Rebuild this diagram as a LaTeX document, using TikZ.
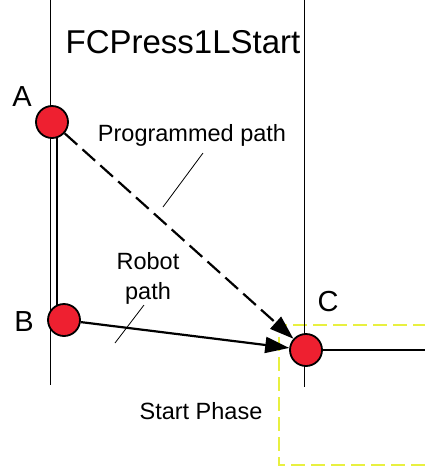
\documentclass[tikz,border=0pt]{standalone}
\usepackage{fontspec}
\setmainfont{Liberation Sans}
\usetikzlibrary{arrows.meta}
\definecolor{ptred}{HTML}{EE2030}
\definecolor{phaseyellow}{HTML}{E8F040}
\begin{document}
\begin{tikzpicture}[x=1pt,y=-1pt,
  pt/.style={circle,draw=black,line width=1.8pt,fill=ptred,minimum size=32pt,inner sep=0pt},
  guide/.style={line width=0.8pt,black},
  pathline/.style={line width=2.2pt,black},
  arr/.style={-{Triangle[length=24pt,width=16pt]}},
  lbl/.style={font=\fontsize{23.5}{30}\selectfont,align=center},
  big/.style={font=\fontsize{33}{36}\selectfont},
  pname/.style={font=\fontsize{29}{32}\selectfont},
  leader/.style={line width=0.8pt,black}]
\useasboundingbox (0,0) rectangle (425,467);
% yellow phase box
\draw[phaseyellow,line width=1.8pt,dash pattern=on 14pt off 6pt] (427,325) -- (279,325) -- (279,465) -- (427,465);
% guide lines
\coordinate (g1t) at (50,0); \coordinate (g1b) at (50,385);
\coordinate (g2t) at (304,0); \coordinate (g2b) at (304,387);
\draw[guide] (g1t) -- (g1b);
\draw[guide] (g2t) -- (g2b);
% points
\node[pt] (A) at (52,122) {};
\node[pt] (B) at (64,320) {};
\node[pt] (C) at (306,350) {};
\coordinate (Ab) at (57,138);
\coordinate (Bt) at (57,305);
\coordinate (E) at (427,350);
% paths
\draw[pathline] (Ab) -- (Bt);
\draw[pathline,arr,dash pattern=on 17pt off 7pt] (A) -- (C);
\draw[pathline,arr] (B) -- (C);
\draw[pathline] (C) -- (E);
% labels
\node[big] (title) at (183,42) {FCPress1LStart};
\node[pname] (la) at (22,97) {A};
\node[pname] (lb) at (24,322) {B};
\node[pname] (lc) at (328,302) {C};
\node[lbl] (prog) at (192,135) {Programmed path};
\node[lbl] (robot) at (148,278) {Robot\\path};
\node[lbl] (start) at (201,411) {Start Phase};
% leaders
\coordinate (p1) at (203,153); \coordinate (p2) at (163,207);
\draw[leader] (p1) -- (p2);
\coordinate (r1) at (144,305); \coordinate (r2) at (115,343);
\draw[leader] (r1) -- (r2);
\end{tikzpicture}
\end{document}
